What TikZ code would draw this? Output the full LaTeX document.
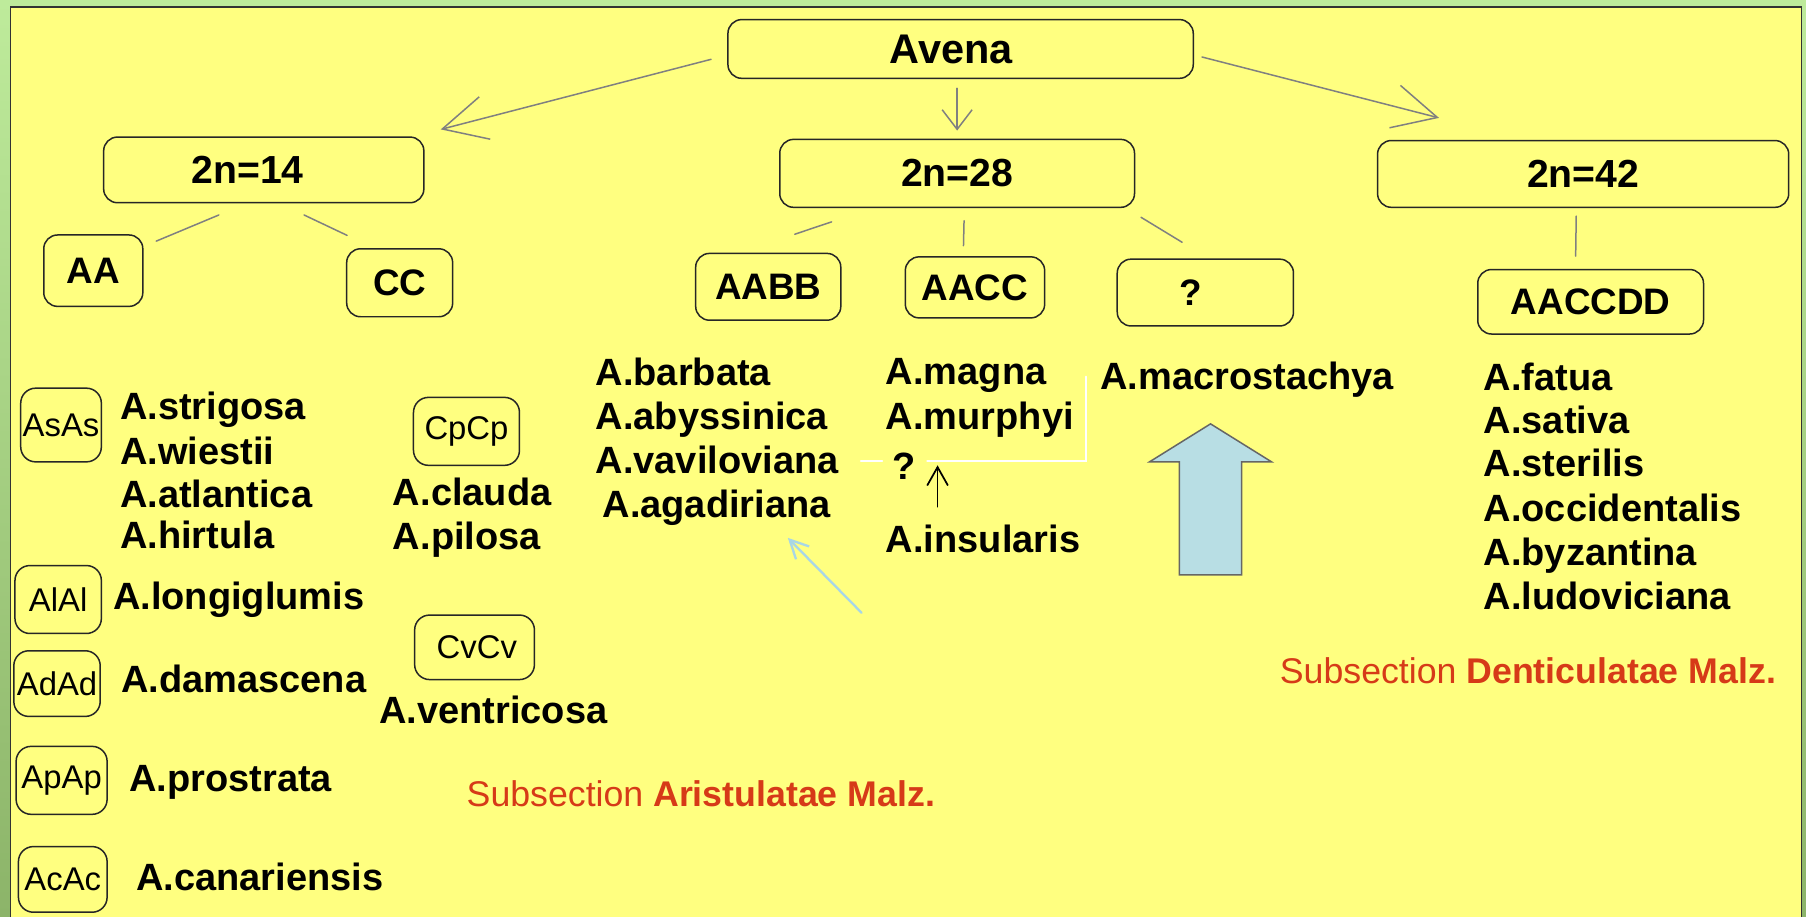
\documentclass[tikz,border=0pt]{standalone}
\usepackage{fontspec}
\setmainfont{Liberation Sans}
\usetikzlibrary{arrows.meta}

\definecolor{panel}{RGB}{255,255,128}
\definecolor{greentop}{RGB}{190,235,155}
\definecolor{greenbot}{RGB}{140,180,105}
\definecolor{linegray}{RGB}{128,128,128}
\definecolor{subred}{RGB}{214,58,24}
\definecolor{arrowblue}{RGB}{184,222,228}
\definecolor{thinblue}{RGB}{168,214,230}

\tikzset{
  box/.style={draw=black!85, line width=1.3pt, rounded corners=12pt, inner sep=0pt},
  bigbox/.style={box, font=\fontsize{34}{40}\selectfont\bfseries},
  genbox/.style={box, font=\fontsize{32}{38}\selectfont\bfseries},
  subbox/.style={box, rounded corners=13pt, font=\fontsize{28.5}{34}\selectfont},
  species/.style={inner sep=0pt, anchor=base west, font=\fontsize{33}{38}\selectfont\bfseries},
  subsec/.style={inner sep=0pt, anchor=base west, text=subred, font=\fontsize{31}{36}\selectfont},
  link/.style={draw=linegray, line width=1.3pt},
  bigarrow/.style={link, -{Straight Barb[length=38pt, width=38pt]}},
  smallarrow/.style={link, -{Straight Barb[length=17pt, width=26pt]}},
  blackarrow/.style={draw=black, line width=1.5pt, -{Straight Barb[length=16pt, width=18pt]}},
  bluearrow/.style={draw=thinblue, line width=2pt, -{Straight Barb[length=16pt, width=16pt]}},
  whiteline/.style={draw=white, line width=1.6pt},
  blockarrow/.style={fill=arrowblue, draw=black!60, line width=1.3pt}
}

\begin{document}
\begin{tikzpicture}[x=1pt, y=-1pt, line cap=round]

\useasboundingbox (0,0) rectangle (1568,796);

% Background
\shade[top color=greentop, bottom color=greenbot] (0,0) rectangle (1568,796);
\draw[fill=panel, draw=black!80, line width=1.5pt] (9,6) rectangle (1564,805);

% Top boxes
\node[bigbox, font=\fontsize{36}{42}\selectfont\bfseries, minimum width=404pt, minimum height=51pt] (avena) at (834,42.5) {Avena\hspace*{16pt}};
\node[bigbox, minimum width=278pt, minimum height=57pt] (n14) at (229,147.5) {2n=14\hspace*{28pt}};
\node[bigbox, minimum width=308pt, minimum height=59pt] (n28) at (831,150.5) {2n=28};
\node[bigbox, minimum width=357pt, minimum height=58pt] (n42) at (1374.5,151) {2n=42};

% Genome boxes
\node[genbox, minimum width=86pt, minimum height=62pt] (aa) at (81,235) {AA};
\node[genbox, minimum width=92pt, minimum height=59pt] (cc) at (347,245.5) {CC};
\node[genbox, minimum width=126pt, minimum height=58pt] (aabb) at (667,249) {AABB};
\node[genbox, minimum width=121pt, minimum height=53pt] (aacc) at (846.5,249.5) {AACC};
\node[genbox, minimum width=153pt, minimum height=58pt] (unk) at (1046.5,254) {?\hspace*{26pt}};
\node[genbox, minimum width=196pt, minimum height=56pt] (aaccdd) at (1381,262) {AACCDD};

% Small boxes
\node[subbox, minimum width=70pt, minimum height=64pt] (asas) at (53,369) {AsAs};
\node[subbox, minimum width=92pt, minimum height=59pt] (cpcp) at (405,374.5) {CpCp};
\node[subbox, minimum width=75pt, minimum height=59pt] (alal) at (50.5,520.5) {AlAl};
\node[subbox, minimum width=104pt, minimum height=56pt] (cvcv) at (412,562) {\hspace*{4pt}CvCv};
\node[subbox, minimum width=75pt, minimum height=57pt] (adad) at (49.5,593.5) {AdAd};
\node[subbox, minimum width=79pt, minimum height=59pt] (apap) at (53.5,677.5) {ApAp};
\node[subbox, minimum width=77pt, minimum height=57pt] (acac) at (54.5,763.5) {AcAc};

% Arrows from Avena
\draw[bigarrow] ([shift={(-14,9)}]avena.west) -- ([shift={(14,-6)}]n14.north east);
\draw[smallarrow] ([shift={(-3,8)}]avena.south) -- ([shift={(0,-7)}]n28.north);
\draw[bigarrow] ([shift={(7,7)}]avena.east) -- ([shift={(54,-19)}]n42.north west);

% Links
\draw[link] ([shift={(-39,10)}]n14.south) -- ([shift={(11,6)}]aa.north east);
\draw[link] ([shift={(35,10)}]n14.south) -- ([shift={(1,-11)}]cc.north west);
\draw[link] ([shift={(-109,12)}]n28.south) -- ([shift={(23,-16)}]aabb.north);
\draw[link] ([shift={(6,11)}]n28.south) -- ([shift={(-10,-9)}]aacc.north);
\draw[link] ([shift={(5,8)}]n28.south east) -- ([shift={(57,-14)}]unk.north west);
\draw[link] ([shift={(-6,7)}]n42.south) -- ([shift={(-13,-11)}]aaccdd.north);

% Species, 2n=14
\node[species] (strigosa) at (104,364) {A.strigosa};
\node[species] (wiestii) at (104,403) {A.wiestii};
\node[species] (atlantica) at (104,441) {A.atlantica};
\node[species] (hirtula) at (104,476) {A.hirtula};
\node[species] (clauda) at (341,439) {A.clauda};
\node[species] (pilosa) at (341,477) {A.pilosa};
\node[species] (longiglumis) at (98,529) {A.longiglumis};
\node[species] (damascena) at (105,601) {A.damascena};
\node[species] (ventricosa) at (329,628) {A.ventricosa};
\node[species] (prostrata) at (112,687) {A.prostrata};
\node[species] (canariensis) at (118,773) {A.canariensis};

% Species, 2n=28
\node[species] (barbata) at (517,335) {A.barbata};
\node[species] (abyssinica) at (517,373) {A.abyssinica};
\node[species] (vaviloviana) at (517,411) {A.vaviloviana};
\node[species] (agadiriana) at (523,449) {A.agadiriana};
\node[species] (magna) at (769,334) {A.magna};
\node[species] (murphyi) at (769,373) {A.murphyi};
\node[species] (qmark) at (775,416) {?};
\node[species] (insularis) at (769,480) {A.insularis};
\node[species] (macrostachya) at (955,338) {A.macrostachya};

% Species, 2n=42
\node[species] (fatua) at (1288,339) {A.fatua};
\node[species] (sativa) at (1288,376) {A.sativa};
\node[species] (sterilis) at (1288,414) {A.sterilis};
\node[species] (occidentalis) at (1288,453) {A.occidentalis};
\node[species] (byzantina) at (1288,491) {A.byzantina};
\node[species] (ludoviciana) at (1288,529) {A.ludoviciana};

% Subsections
\node[subsec] (aristulatae) at (405,700) {Subsection \textbf{Aristulatae Malz.}};
\node[subsec] (denticulatae) at (1111,593) {Subsection \textbf{Denticulatae Malz.}};

% White bracket
\draw[whiteline] ([shift={(19,-11)}]vaviloviana.base east) -- ([shift={(-9,-16)}]qmark.base west);
\draw[whiteline] ([shift={(30,-16)}]qmark.base west) -| ([shift={(-12,-11)}]macrostachya.base west);

% Small arrows
\draw[blackarrow] ([shift={(45,-40)}]insularis.base west) -- ([shift={(39,-12)}]qmark.base west);
\coordinate (bluetail) at (748,532);
\draw[bluearrow] (bluetail) -- ([shift={(161,18)}]agadiriana.base west);

% Block arrow
\draw[blockarrow] (1051,368) -- (1104,401) -- (1078,401) -- (1078,499)
  -- (1024,499) -- (1024,401) -- (998,401) -- cycle;

\end{tikzpicture}
\end{document}
